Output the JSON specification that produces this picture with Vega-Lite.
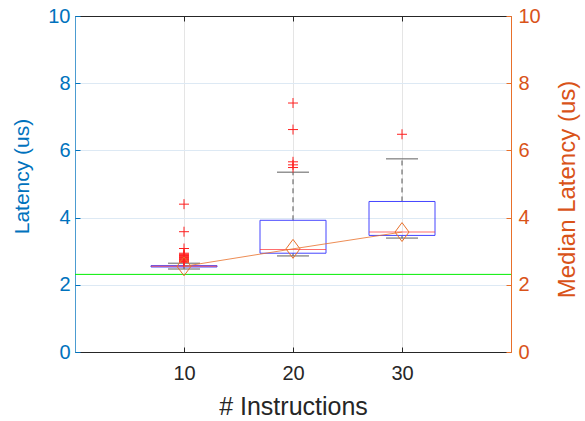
{
  "$schema": "https://vega.github.io/schema/vega-lite/v6.json",
  "width": 436,
  "height": 336,
  "autosize": {"type": "none"},
  "padding": {"left": 75, "top": 16, "right": 74, "bottom": 69},
  "background": "white",
  "config": {
    "view": {"stroke": null},
    "font": "Liberation Sans",
    "axis": {"labelFont": "Liberation Sans", "titleFont": "Liberation Sans", "titleFontWeight": "normal", "labelFontSize": 20, "titleFontSize": 22}
  },
  "datasets": {
    "boxes": [
      {"n": 10, "q1": 2.53, "q3": 2.57, "med": 2.55, "lo": 2.47, "hi": 2.64},
      {"n": 20, "q1": 2.94, "q3": 3.92, "med": 3.05, "lo": 2.86, "hi": 5.35},
      {"n": 30, "q1": 3.47, "q3": 4.48, "med": 3.57, "lo": 3.39, "hi": 5.75}
    ],
    "outliers": [
      {"n": 10, "v": 2.67}, {"n": 10, "v": 2.69}, {"n": 10, "v": 2.71}, {"n": 10, "v": 2.73},
      {"n": 10, "v": 2.75}, {"n": 10, "v": 2.77}, {"n": 10, "v": 2.79}, {"n": 10, "v": 2.81},
      {"n": 10, "v": 2.83}, {"n": 10, "v": 2.85}, {"n": 10, "v": 2.87}, {"n": 10, "v": 2.89},
      {"n": 10, "v": 2.91}, {"n": 10, "v": 2.94}, {"n": 10, "v": 3.08}, {"n": 10, "v": 3.58},
      {"n": 10, "v": 4.40},
      {"n": 20, "v": 5.49}, {"n": 20, "v": 5.57}, {"n": 20, "v": 5.66}, {"n": 20, "v": 6.62},
      {"n": 20, "v": 7.41},
      {"n": 30, "v": 6.48}
    ],
    "medians": [
      {"n": 10, "m": 2.55},
      {"n": 20, "m": 3.07},
      {"n": 30, "m": 3.57}
    ],
    "threshold": [{"t": 2.31}]
  },
  "layer": [
    {
      "layer": [
        {
          "data": {"name": "threshold"},
          "mark": {"type": "rule", "color": "#00ee00", "strokeWidth": 1},
          "encoding": {
            "y": {"field": "t", "type": "quantitative", "scale": {"domain": [0, 10]},
              "axis": {"orient": "left", "values": [0, 2, 4, 6, 8, 10], "title": "Latency (us)",
                "domainColor": "#0072BD", "domainOpacity": 0.7, "tickColor": "#0072BD", "labelColor": "#0072BD", "titleColor": "#0072BD",
                "gridColor": "#dde9f4", "grid": true, "tickSize": -5, "labelPadding": 10,
                "titleFontSize": 21, "titleAngle": 270, "titleBaseline": "middle", "titleX": -53, "titleY": 160}}
          }
        },
        {
          "data": {"name": "boxes"},
          "mark": {"type": "rule", "color": "#555555", "strokeDash": [5, 4], "strokeWidth": 1},
          "encoding": {
            "x": {"field": "n", "type": "quantitative", "scale": {"domain": [5, 35]},
              "axis": {"orient": "bottom", "values": [10, 20, 30], "title": "# Instructions", "grid": true, "gridColor": "#e5e5e5",
                "domainColor": "#262626", "tickColor": "#262626", "labelColor": "#262626", "titleColor": "#262626",
                "tickSize": -5, "labelPadding": 16, "titleFontSize": 25, "titleBaseline": "alphabetic", "titleY": 62}},
            "y": {"field": "q3", "type": "quantitative"},
            "y2": {"field": "hi"}
          }
        },
        {
          "data": {"name": "boxes"},
          "mark": {"type": "rule", "color": "#555555", "strokeDash": [5, 4], "strokeWidth": 1},
          "encoding": {
            "x": {"field": "n", "type": "quantitative"},
            "y": {"field": "lo", "type": "quantitative"},
            "y2": {"field": "q1"}
          }
        },
        {
          "data": {"name": "boxes"},
          "mark": {"type": "tick", "orient": "horizontal", "color": "#666666", "size": 32, "thickness": 1.5},
          "encoding": {
            "x": {"field": "n", "type": "quantitative"},
            "y": {"field": "hi", "type": "quantitative"}
          }
        },
        {
          "data": {"name": "boxes"},
          "mark": {"type": "tick", "orient": "horizontal", "color": "#666666", "size": 32, "thickness": 1.5},
          "encoding": {
            "x": {"field": "n", "type": "quantitative"},
            "y": {"field": "lo", "type": "quantitative"}
          }
        },
        {
          "data": {"name": "boxes"},
          "mark": {"type": "bar", "size": 66, "fill": "white", "fillOpacity": 0, "stroke": "#4444ff", "strokeWidth": 1},
          "encoding": {
            "x": {"field": "n", "type": "quantitative"},
            "y": {"field": "q1", "type": "quantitative"},
            "y2": {"field": "q3"}
          }
        },
        {
          "data": {"name": "boxes"},
          "mark": {"type": "tick", "orient": "horizontal", "color": "#ff3030", "size": 66, "thickness": 1},
          "encoding": {
            "x": {"field": "n", "type": "quantitative"},
            "y": {"field": "med", "type": "quantitative"}
          }
        },
        {
          "data": {"name": "outliers"},
          "mark": {"type": "point", "shape": "M-1,0L1,0M0,-1L0,1", "filled": false, "stroke": "#ff2020", "strokeWidth": 1, "size": 100, "opacity": 1},
          "encoding": {
            "x": {"field": "n", "type": "quantitative"},
            "y": {"field": "v", "type": "quantitative"}
          }
        }
      ]
    },
    {
      "data": {"name": "medians"},
      "layer": [
        {
          "mark": {"type": "line", "color": "#E8702A", "strokeWidth": 0.8},
          "encoding": {
            "x": {"field": "n", "type": "quantitative",
              "axis": {"orient": "top", "values": [10, 20, 30], "labels": false, "title": null, "grid": false,
                "domainColor": "#262626", "tickColor": "#262626", "tickSize": -5}},
            "y": {"field": "m", "type": "quantitative", "scale": {"domain": [0, 10]},
              "axis": {"orient": "right", "values": [0, 2, 4, 6, 8, 10], "title": "Median Latency (us)", "grid": false,
                "domainColor": "#E8702A", "tickColor": "#E8702A", "labelColor": "#D95319", "titleColor": "#D95319",
                "tickSize": -5, "labelPadding": 12,
                "titleFontSize": 24, "titleAngle": 270, "titleBaseline": "middle", "titleX": 56, "titleY": 173}}
          }
        },
        {
          "mark": {"type": "point", "shape": "M0,-1.35L1,0L0,1.35L-1,0Z", "filled": false, "stroke": "#E8702A", "strokeWidth": 1, "size": 196, "opacity": 1},
          "encoding": {
            "x": {"field": "n", "type": "quantitative"},
            "y": {"field": "m", "type": "quantitative"}
          }
        }
      ]
    }
  ],
  "resolve": {"scale": {"y": "independent"}, "axis": {"x": "independent", "y": "independent"}}
}
